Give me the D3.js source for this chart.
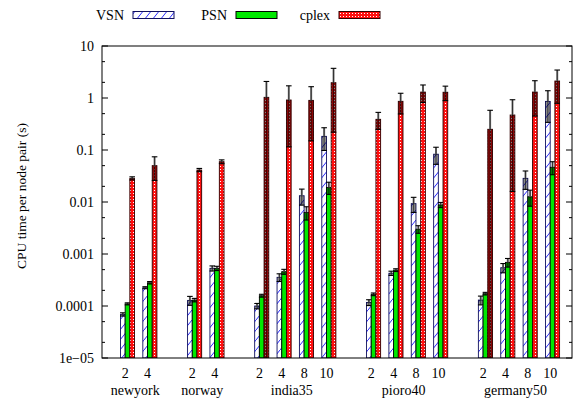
<!DOCTYPE html>
<html>
<head>
<meta charset="utf-8">
<script src="https://cdn.jsdelivr.net/npm/d3@7"></script>
<style>
  body { margin: 0; background: #fff; }
</style>
</head>
<body>
<svg id="chart" width="575" height="402" font-family="'Liberation Serif', 'DejaVu Serif', serif"></svg>
<script>
// network instances and the cluster sizes (k) measured on each
const groupNames = ["newyork", "norway", "india35", "pioro40", "germany50"];
const groupK = [[2, 4], [2, 4], [2, 4, 8, 10], [2, 4, 8, 10], [2, 4, 8, 10]];

// CPU time per node pair (s), one entry per (network, k) in the order above
const vsn      = [6.9e-5, 2.25e-4, 1.28e-4, 5.3e-4, 1.0e-4, 3.56e-4, 0.0132, 0.183, 1.17e-4, 4.27e-4, 0.0093, 0.083, 1.3e-4, 5.45e-4, 0.0285, 0.86];
const vsnErr   = [0.5e-5, 0.1e-4, 0.25e-4, 0.6e-4, 0.12e-4, 0.6e-4, 0.0045, 0.085, 0.15e-4, 0.4e-4, 0.003, 0.03, 0.25e-4, 1.1e-4, 0.011, 0.52];
const psn      = [1.1e-4, 2.8e-4, 1.3e-4, 5.3e-4, 1.58e-4, 4.57e-4, 0.0063, 0.019, 1.68e-4, 4.9e-4, 0.003, 0.0088, 1.73e-4, 6.9e-4, 0.0126, 0.0465];
const psnErr   = [0.05e-4, 0.15e-4, 0.1e-4, 0.5e-4, 0.1e-4, 0.5e-4, 0.0018, 0.005, 0.1e-4, 0.3e-4, 0.0005, 0.001, 0.1e-4, 1.3e-4, 0.0043, 0.013];
const cplex    = [0.0285, 0.05, 0.0412, 0.0596, 1.03, 0.915, 0.9, 1.97, 0.389, 0.863, 1.30, 1.29, 0.25, 0.471, 1.30, 2.12];
const cplexErr = [0.002, 0.024, 0.003, 0.005, 1.05, 0.8, 0.75, 1.75, 0.14, 0.37, 0.48, 0.4, 0.33, 0.455, 0.85, 1.33];

const yTicks = [10, 1, 0.1, 0.01, 0.001, 0.0001, 1e-5];
const yTickLabels = ["10", "1", "0.1", "0.01", "0.001", "0.0001", "1e\u221205"];

const series = [
  { name: "VSN", values: vsn, errs: vsnErr, fill: "url(#hatch)", stroke: "#101060" },
  { name: "PSN", values: psn, errs: psnErr, fill: "#00e800", stroke: "#000" },
  { name: "cplex", values: cplex, errs: cplexErr, fill: "url(#dots)", stroke: "#300" }
];

// build cluster list: slot index with a one-slot gap between networks
const clusters = [];
let slot = 0;
groupNames.forEach((g, gi) => {
  groupK[gi].forEach(k => { clusters.push({ group: g, k: k, slot: slot }); slot++; });
  slot++;
});

const svg = d3.select("#chart");
const plotLeft = 102, plotRight = 572, plotTop = 46, plotBottom = 358;

const x = d3.scaleLinear().domain([-1.14, 19.87]).range([plotLeft, plotRight]);
const y = d3.scaleLog().domain([1e-5, 10]).range([plotBottom, plotTop]);
const barW = x(0.21) - x(0);

// fill patterns
const defs = svg.append("defs");
const hatch = defs.append("pattern").attr("id", "hatch").attr("patternUnits", "userSpaceOnUse")
  .attr("width", 8).attr("height", 10);
hatch.append("rect").attr("width", 8).attr("height", 10).attr("fill", "#fff");
hatch.append("path").attr("d", "M-2,12.5 L10,-2.5").attr("stroke", "#2a2aff").attr("stroke-width", 1);

const dots = defs.append("pattern").attr("id", "dots").attr("patternUnits", "userSpaceOnUse")
  .attr("width", 3).attr("height", 3);
dots.append("rect").attr("width", 3).attr("height", 3).attr("fill", "#ff1010");
dots.append("rect").attr("x", 1).attr("y", 1).attr("width", 1).attr("height", 1).attr("fill", "#fff");

defs.append("clipPath").attr("id", "plotclip").append("rect")
  .attr("x", plotLeft).attr("y", plotTop).attr("width", plotRight - plotLeft).attr("height", plotBottom - plotTop);

// bars and error bars
const plot = svg.append("g").attr("clip-path", "url(#plotclip)");
series.forEach((s, si) => {
  const off = (si - 1) * barW;
  const g = plot.append("g");
  clusters.forEach((c, i) => {
    const v = s.values[i], e = s.errs[i];
    const cx = x(c.slot) + off;
    const yTop = y(v);
    g.append("rect")
      .attr("x", cx - barW / 2).attr("y", yTop)
      .attr("width", barW).attr("height", plotBottom - yTop)
      .attr("fill", s.fill).attr("stroke", s.stroke).attr("stroke-width", 0.9);

    const hi = y(v + e);
    const lo = v - e > 1e-5 ? y(v - e) : plotBottom + 2;
    // shaded part of the error range that lies inside the bar
    g.append("rect")
      .attr("x", cx - barW / 2).attr("y", yTop)
      .attr("width", barW).attr("height", Math.max(0, lo - yTop))
      .attr("fill", "#000").attr("opacity", 0.45);
    g.append("line")
      .attr("x1", cx).attr("x2", cx).attr("y1", hi).attr("y2", yTop)
      .attr("stroke", "#777").attr("stroke-width", 2);
    g.append("line")
      .attr("x1", cx).attr("x2", cx).attr("y1", hi).attr("y2", Math.min(lo, plotBottom))
      .attr("stroke", "#000").attr("stroke-width", 0.6);
    [hi, lo].forEach(yy => {
      g.append("line")
        .attr("x1", cx - 2.8).attr("x2", cx + 2.8).attr("y1", yy).attr("y2", yy)
        .attr("stroke", "#000").attr("stroke-width", 1.1);
    });
  });
});

// ticks (inward, mirrored on the right)
const minor = [];
for (let p = -5; p < 1; p++) { minor.push(2 * Math.pow(10, p)); minor.push(5 * Math.pow(10, p)); }
const tickG = svg.append("g").attr("stroke", "#000").attr("stroke-width", 1);
yTicks.forEach(t => {
  tickG.append("line").attr("x1", plotLeft).attr("x2", plotLeft + 6).attr("y1", y(t)).attr("y2", y(t));
  tickG.append("line").attr("x1", plotRight - 6).attr("x2", plotRight).attr("y1", y(t)).attr("y2", y(t));
});
minor.forEach(t => {
  tickG.append("line").attr("x1", plotLeft).attr("x2", plotLeft + 3).attr("y1", y(t)).attr("y2", y(t));
  tickG.append("line").attr("x1", plotRight - 3).attr("x2", plotRight).attr("y1", y(t)).attr("y2", y(t));
});

svg.append("g").selectAll("text").data(yTicks).join("text")
  .attr("x", plotLeft - 8).attr("y", d => y(d) + 4.5)
  .attr("text-anchor", "end").attr("font-size", 14)
  .text((d, i) => yTickLabels[i]);

svg.append("text")
  .attr("transform", `translate(26,${(plotTop + plotBottom) / 2 - 6}) rotate(-90)`)
  .attr("text-anchor", "middle").attr("font-size", 13.5)
  .text("CPU time per node pair (s)");

// border
svg.append("rect").attr("x", plotLeft).attr("y", plotTop).attr("width", plotRight - plotLeft).attr("height", plotBottom - plotTop)
  .attr("fill", "none").attr("stroke", "#000").attr("stroke-width", 1);

// x labels
svg.append("g").selectAll("text").data(clusters).join("text")
  .attr("x", d => x(d.slot) - 2.3).attr("y", 378)
  .attr("text-anchor", "middle").attr("font-size", 14)
  .text(d => d.k);

svg.append("g").selectAll("text").data(groupNames).join("text")
  .attr("x", g => d3.mean(clusters.filter(c => c.group === g), c => x(c.slot)) - 3.5)
  .attr("y", 395)
  .attr("text-anchor", "middle").attr("font-size", 14)
  .text(g => g);

// legend
const legendX = [124, 227, 330];
const legend = svg.append("g");
series.forEach((s, i) => {
  legend.append("text").attr("x", legendX[i]).attr("y", 20)
    .attr("text-anchor", "end").attr("font-size", 14).text(s.name);
  legend.append("rect").attr("x", legendX[i] + 9).attr("y", 11.5)
    .attr("width", 41).attr("height", 7)
    .attr("fill", s.fill).attr("stroke", s.stroke).attr("stroke-width", 1);
});
</script>
</body>
</html>
